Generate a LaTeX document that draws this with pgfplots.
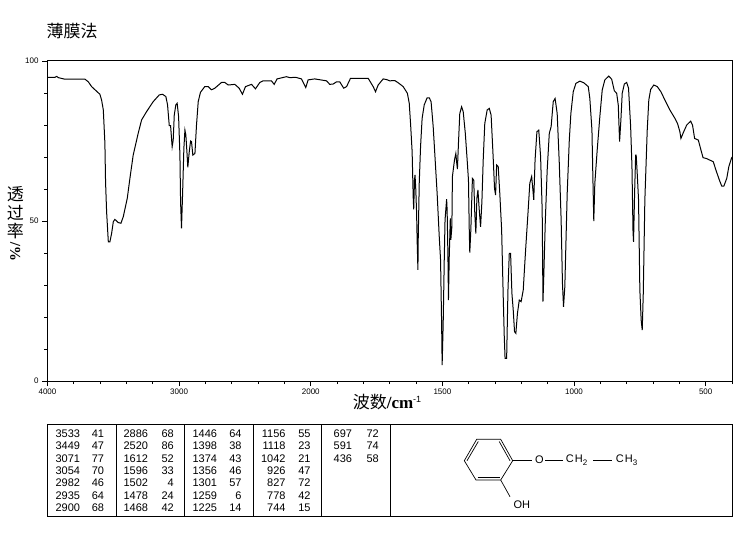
\documentclass[border=0pt]{standalone}
\usepackage{fontspec}
\usepackage{pgfplots}
\pgfplotsset{compat=1.18}
\setmainfont{Liberation Sans}
\newfontfamily\cjk{Noto Sans CJK SC}
\newfontfamily\serifb{Liberation Serif}

\pgfplotstableread{
w T
4000 94.9
3943 94.9
3930 95.2
3918 94.8
3867 94.3
3715 94.3
3690 93.5
3665 92.0
3639 91.0
3602 89.6
3589 87.8
3576 84.7
3564 74.3
3559 62.3
3551 52.9
3538 43.5
3526 43.5
3513 46.1
3500 49.8
3488 50.5
3462 49.5
3442 49.3
3424 51.4
3394 57.1
3374 63.3
3349 70.6
3311 77.4
3285 81.6
3247 84.2
3197 87.3
3151 89.4
3126 89.6
3101 88.9
3088 86.3
3075 79.8
3065 79.8
3053 73.2
3045 75.3
3037 83.1
3025 86.3
3015 86.8
3004 82.6
2994 70.6
2989 56.0
2982 47.7
2974 58.1
2964 72.7
2956 78.4
2949 76.9
2941 71.7
2934 66.8
2923 71.7
2913 75.0
2906 74.8
2896 70.6
2880 71.1
2868 80.0
2855 87.3
2838 90.2
2805 92.0
2779 92.0
2754 91.0
2729 91.5
2678 93.3
2653 93.3
2627 92.5
2577 92.7
2544 91.5
2519 89.6
2496 92.0
2450 92.7
2420 91.3
2387 93.3
2362 93.8
2299 93.8
2278 92.7
2256 94.4
2185 95.1
2159 94.8
2114 94.9
2071 94.4
2038 91.7
2020 94.1
1985 94.4
1940 93.8
1928 92.7
1915 92.8
1902 93.5
1890 93.5
1875 91.5
1864 92.0
1849 94.6
1782 94.6
1763 92.0
1754 90.4
1744 92.5
1725 94.4
1712 94.2
1700 93.8
1681 93.9
1668 93.2
1649 92.0
1633 89.9
1626 86.8
1621 80.5
1615 71.7
1611 57.6
1609 53.6
1606 62.8
1604 64.4
1601 59.7
1598 52.4
1596 44.1
1593 34.7
1592 43.5
1588 61.8
1583 73.2
1577 82.1
1569 86.3
1558 88.5
1550 88.5
1543 87.3
1535 79.5
1526 67.0
1520 58.6
1512 45.1
1507 37.8
1503 18.0
1501 5.0
1497 18.0
1493 37.8
1490 50.3
1484 56.8
1482 53.4
1479 38.9
1477 25.3
1474 38.9
1470 50.8
1468 44.1
1464 48.2
1462 63.9
1454 69.1
1449 71.1
1446 68.5
1443 66.2
1439 74.3
1434 83.6
1427 85.7
1421 84.2
1413 77.4
1406 69.1
1401 62.8
1398 47.2
1396 40.1
1392 47.2
1386 63.3
1381 62.8
1377 52.4
1373 46.1
1369 57.1
1365 59.7
1360 53.4
1355 48.2
1350 56.0
1345 69.1
1339 80.5
1330 84.7
1322 85.2
1315 83.1
1307 69.6
1302 60.2
1298 58.1
1294 67.5
1288 67.0
1282 58.6
1275 47.2
1269 26.4
1265 13.8
1262 7.1
1256 7.1
1251 28.4
1246 39.9
1241 39.9
1236 27.4
1231 22.2
1226 15.4
1221 14.9
1215 21.1
1208 25.3
1201 24.8
1193 28.4
1184 40.9
1175 52.4
1168 61.8
1161 63.9
1158 61.3
1153 56.6
1148 69.1
1141 77.9
1134 78.4
1127 70.1
1121 53.4
1118 24.8
1115 32.6
1109 50.3
1102 65.9
1094 77.4
1087 79.5
1079 87.3
1072 88.3
1064 83.6
1056 68.0
1049 50.3
1044 30.5
1040 23.2
1035 29.5
1026 58.6
1018 75.3
1012 83.6
1003 90.4
993 93.0
978 93.7
963 93.2
946 92.0
940 88.3
932 78.4
928 61.8
925 50.0
921 61.8
912 72.2
902 82.6
893 90.9
883 94.1
868 95.3
857 94.3
847 90.7
838 89.9
832 86.2
827 74.8
822 81.6
817 89.9
809 92.8
800 93.3
793 91.5
785 79.5
780 67.0
776 46.7
774 43.5
770 58.6
766 70.6
764 70.6
760 64.9
755 56.6
750 28.4
745 19.0
741 15.9
737 27.4
731 56.6
722 78.4
716 87.8
709 91.1
697 92.5
684 92.0
670 90.4
655 87.8
636 84.7
617 82.1
607 80.5
598 77.9
594 75.8
585 77.6
572 80.0
557 81.2
550 80.0
542 75.8
528 75.3
518 72.2
510 69.8
496 69.5
471 68.5
461 65.9
448 62.8
439 60.9
431 60.9
420 63.3
412 67.0
402 69.6
400 70.0
}\spectrum

% one column of the peak table: right edges of the two numbers, then the pairs
\newcommand{\peakcol}[3]{%
  \foreach \a/\b [count=\i from 0] in {#3} {
    \node[anchor=east,inner sep=0pt,font=\fontsize{11}{11}\selectfont]
      at (#1,433.7+12.33*\i) {\a};
    \node[anchor=east,inner sep=0pt,font=\fontsize{11}{11}\selectfont]
      at (#2,433.7+12.33*\i) {\b};
  }}

\begin{document}
\begin{tikzpicture}
\path[use as bounding box] (0,0) rectangle (748pt,539pt);
\begin{axis}[
  at={(47.5pt,158pt)},
  anchor=south west,
  scale only axis,
  width=684.5pt,
  height=320pt,
  x coord trafo/.code={\pgfmathparse{#1>=2000 ? (4000-#1)/2 : 3000-#1}},
  xmin=4000, xmax=400,
  ymin=0, ymax=100,
  xtick={4000,3000,2000,1500,1000,500},
  xticklabels={4000,3000,2000,1500,1000,500},
  minor xtick={3800,3600,3400,3200,2800,2600,2400,2200,1900,1800,1700,1600,1400,1300,1200,1100,900,800,700,600,400},
  ytick={0,50,100},
  minor ytick={10,20,30,40,60,70,80,90},
  xtick pos=bottom,
  ytick pos=left,
  tick align=outside,
  major tick length=5pt,
  minor tick length=3pt,
  tick style={black,line width=0.9pt},
  axis line style={line width=1pt},
  /pgf/number format/assume math mode=true,
  tick label style={font=\fontsize{8}{8}\selectfont},
  xticklabel style={yshift=1pt},
  yticklabel style={xshift=-0.5pt},
  title={\fontsize{17}{17}\cjk 薄膜法},
  title style={at={(axis description cs:0.0358,1.075)},anchor=center},
  xlabel={{\fontsize{17}{17}\cjk 波数}{\fontsize{17}{17}\serifb\bfseries /cm}\raisebox{6pt}{\fontsize{9}{9}\selectfont -1}},
  xlabel style={at={(axis description cs:0.496,-0.066)},anchor=center},
  ylabel={\fontsize{17}{17}\cjk\shortstack{透\\过\\率\\\rotatebox{90}{\fontsize{15}{15}\serifb\bfseries\%/}}},
  ylabel style={at={(axis description cs:-0.047,0.49)},rotate=-90,anchor=center},
]
\addplot[black,line width=1pt] table[x=w,y=T] {\spectrum};
\end{axis}

\begin{scope}[x=1pt,y=-1pt,yshift=539pt]
  % peak table frame
  \draw[line width=1pt] (47.5,424.3) rectangle (732,516.3);
  \foreach \x in {116.3,184.3,253.3,321.3,390.3}
    \draw[line width=1pt] (\x,424.3) -- (\x,516.3);
  \peakcol{80.3}{104.3}{3533/41,3449/47,3071/77,3054/70,2982/46,2935/64,2900/68}
  \peakcol{148.3}{174}{2886/68,2520/86,1612/52,1596/33,1502/4,1478/24,1468/42}
  \peakcol{217.3}{241.7}{1446/64,1398/38,1374/43,1356/46,1301/57,1259/6,1225/14}
  \peakcol{285.7}{310.7}{1156/55,1118/23,1042/21,926/47,827/72,778/42,744/15}
  \peakcol{352.3}{379}{697/72,591/74,436/58}
  % structure
  \draw[line width=0.7pt] (464.3,460.7) -- (476.7,439.3) -- (500.7,439.3) -- (512.7,460.7) -- (500.7,480) -- (476,480) -- cycle;
  \draw[line width=0.7pt] (467,460.7) -- (478.3,441.5);
  \draw[line width=0.7pt] (499.2,441.5) -- (510,460.7);
  \draw[line width=0.7pt] (477.5,477.8) -- (499.5,477.8);
  \draw[line width=0.7pt] (500.7,480) -- (510,496.7);
  \draw[line width=0.7pt] (512.7,460.7) -- (531.7,460.7);
  \draw[line width=0.7pt] (545,460) -- (562.7,460);
  \draw[line width=0.7pt] (593.3,460) -- (612.3,460);
  \node[font=\fontsize{11}{11}\selectfont,inner sep=0pt] at (539.5,460) {O};
  \node[font=\fontsize{11}{11}\selectfont,inner sep=0pt,anchor=west] at (565.7,460) {C\kern1pt H\raisebox{-2.5pt}{\fontsize{8}{8}\selectfont 2}};
  \node[font=\fontsize{11}{11}\selectfont,inner sep=0pt,anchor=west] at (615.7,460) {C\kern1pt H\raisebox{-2.5pt}{\fontsize{8}{8}\selectfont 3}};
  \node[font=\fontsize{11}{11}\selectfont,inner sep=0pt,anchor=west] at (513.3,505) {OH};
\end{scope}
\end{tikzpicture}
\end{document}
